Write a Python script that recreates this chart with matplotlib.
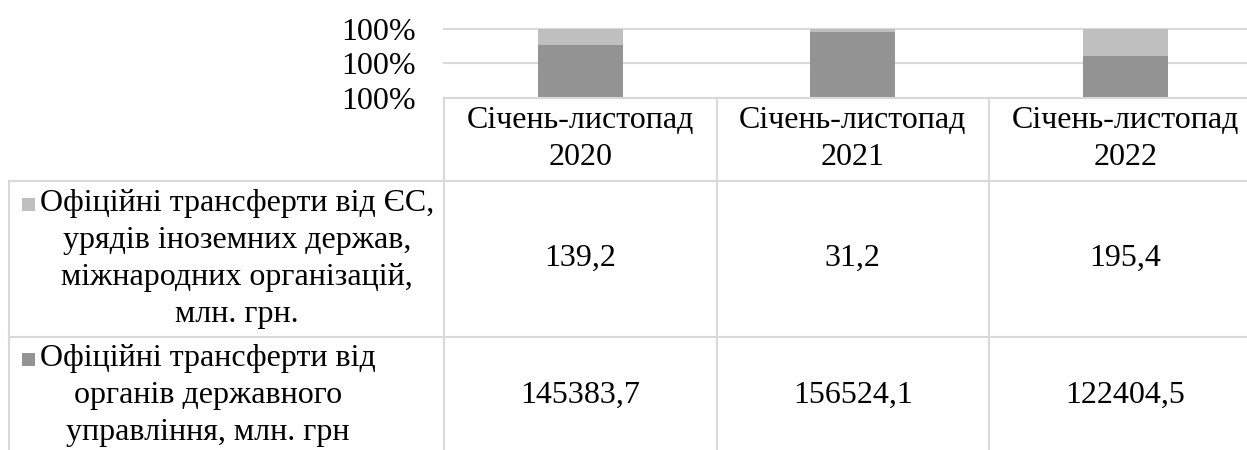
import matplotlib
matplotlib.use("Agg")
import matplotlib.pyplot as plt
from matplotlib.lines import Line2D
from matplotlib.patches import Rectangle
from matplotlib.transforms import blended_transform_factory

# ---- data ----
categories = ["Січень-листопад\n2020", "Січень-листопад\n2021", "Січень-листопад\n2022"]
series_names = [
    "Офіційні трансферти від ЄС,\nурядів іноземних держав,\nміжнародних організацій,\nмлн. грн.",
    "Офіційні трансферти від\nорганів державного\nуправління, млн. грн",
]
foreign = [139.2, 31.2, 195.4]          # light grey (top)
state = [145383.7, 156524.1, 122404.5]  # dark grey (bottom)
value_labels_foreign = ["139,2", "31,2", "195,4"]
value_labels_state = ["145383,7", "156524,1", "122404,5"]
y_ticks = [99.6, 99.8, 100.0]

LIGHT = "#BFBFBF"
DARK = "#939393"
GRID = "#D9D9D9"
FONT = "Liberation Serif"
FS = 23

W, H = 1247, 450
fig = plt.figure(figsize=(W / 100, H / 100), dpi=100)
plt.rcParams["font.family"] = [FONT, "DejaVu Serif"]


def fx(x):
    return x / W


def fy(y):
    return 1 - y / H


ax_left, ax_right, ax_top, ax_bot = 444, 1261.5, 29, 97.7
ax = fig.add_axes([fx(ax_left), fy(ax_bot), (ax_right - ax_left) / W, (ax_bot - ax_top) / H])

totals = [a + b for a, b in zip(foreign, state)]
state_pct = [s / t * 100 for s, t in zip(state, totals)]
foreign_pct = [f / t * 100 for f, t in zip(foreign, totals)]
xs = list(range(len(categories)))
ax.bar(xs, state_pct, width=0.312, color=DARK, zorder=3)
ax.bar(xs, foreign_pct, bottom=state_pct, width=0.312, color=LIGHT, zorder=3)
ax.set_xlim(-0.5, len(categories) - 0.5)
ax.set_ylim(y_ticks[0], y_ticks[-1])
ax.set_yticks(y_ticks)
ax.set_yticklabels([f"{t:.0f}%" for t in y_ticks], fontsize=FS, fontfamily=FONT)
ax.tick_params(axis="y", length=0, pad=20)
ax.set_xticks([])
for s in ax.spines.values():
    s.set_visible(False)
ax.grid(axis="y", color=GRID, linewidth=1.5, zorder=0)
for gl in ax.get_ygridlines():
    gl.set_clip_on(False)
ax.set_axisbelow(True)

# ---- data table ----
tr = blended_transform_factory(ax.transData, fig.transFigure)
row_top = [97.7, 180.5, 337.0]
row_bottom_last = 454.0
row_centers = [(row_top[0] + row_top[1]) / 2, (row_top[1] + row_top[2]) / 2,
               (row_top[2] + row_bottom_last) / 2]
left_edge = 9.3
LW = 1.5


def hline(y, x0, x1):
    fig.add_artist(Line2D([fx(x0), fx(x1)], [fy(y), fy(y)], color=GRID, lw=LW,
                          transform=fig.transFigure))


hline(row_top[0], ax_left, W)
hline(row_top[1], left_edge, W)
hline(row_top[2], left_edge, W)
fig.add_artist(Line2D([fx(left_edge)] * 2, [fy(row_top[1]), fy(H + 5)], color=GRID, lw=LW,
                      transform=fig.transFigure))
for xb in [-0.5 + i for i in range(len(categories))]:
    fig.add_artist(Line2D([xb, xb], [fy(row_top[0]), fy(H + 5)], color=GRID, lw=LW,
                          transform=tr))

LS = 1.36
for i, cat in enumerate(categories):
    fig.text(i, fy(row_centers[0]), cat, transform=tr, ha="center", va="center",
             fontsize=FS, family=FONT, linespacing=LS, multialignment="center")
    fig.text(i, fy(row_centers[1]), value_labels_foreign[i], transform=tr, ha="center",
             va="center", fontsize=FS, family=FONT)
    fig.text(i, fy(row_centers[2]), value_labels_state[i], transform=tr, ha="center",
             va="center", fontsize=FS, family=FONT)

# legend keys + series names
line_gap = 36.5
for k, (name, col) in enumerate(zip(series_names, [LIGHT, DARK])):
    n = name.count("\n") + 1
    cy = row_centers[k + 1]
    first_line_y = cy - (n - 1) * line_gap / 2
    fig.text(fx(40), fy(cy), name, ha="left", va="center", fontsize=FS, family=FONT,
             linespacing=LS, multialignment="center")
    fig.add_artist(Rectangle((fx(22), fy(first_line_y + 7)), 13 / W, 13 / H,
                             transform=fig.transFigure, facecolor=col, edgecolor="none"))

fig.savefig("out.png", dpi=100)
